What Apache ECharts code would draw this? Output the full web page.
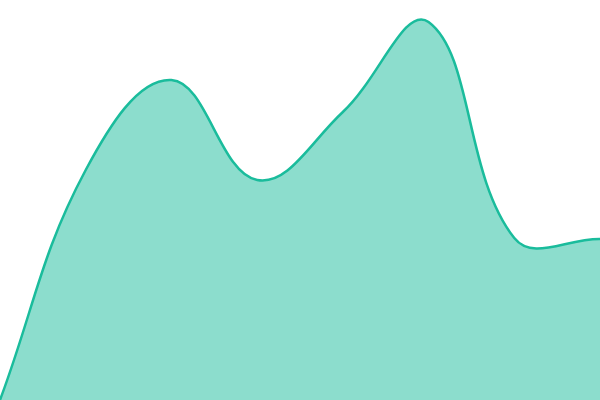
<!DOCTYPE html>
<html><head><meta charset="utf-8">
<script src="https://cdn.jsdelivr.net/npm/echarts@6/dist/echarts.min.js"></script>
<style>html,body{margin:0;padding:0;background:#fff}#c{width:600px;height:400px}</style>
</head><body><div id="c"></div>
<script>
var categories = ['1', '2', '3', '4', '5', '6', '7', '8'];
var values = [0, 230, 320, 220, 288, 378, 162, 161];
var tension = 0.4;

function splinePath(pts, t) {
  var cps = pts.map(function (p, i) {
    var prev = pts[i - 1] || p, next = pts[i + 1] || p;
    var d01 = Math.hypot(p[0] - prev[0], p[1] - prev[1]);
    var d12 = Math.hypot(next[0] - p[0], next[1] - p[1]);
    var s = d01 + d12;
    var s01 = s ? d01 / s : 0, s12 = s ? d12 / s : 0;
    var vx = next[0] - prev[0], vy = next[1] - prev[1];
    return {
      prev: [p[0] - t * s01 * vx, p[1] - t * s01 * vy],
      next: [p[0] + t * s12 * vx, p[1] + t * s12 * vy]
    };
  });
  var d = 'M' + pts[0][0] + ',' + pts[0][1];
  for (var i = 1; i < pts.length; i++) {
    var a = cps[i - 1].next, b = cps[i].prev, p = pts[i];
    d += ' C' + a[0] + ',' + a[1] + ' ' + b[0] + ',' + b[1] + ' ' + p[0] + ',' + p[1];
  }
  return d;
}

var chart = echarts.init(document.getElementById('c'));
chart.setOption({
  animation: false,
  grid: {left: 0, right: 0, top: 0, bottom: 0},
  xAxis: {type: 'category', data: categories, boundaryGap: false, show: false},
  yAxis: {type: 'value', min: 0, max: 400, show: false},
  series: [{
    type: 'custom',
    clip: true,
    data: values.map(function (v, i) { return [i, v]; }),
    encode: {x: 0, y: 1},
    renderItem: function (params, api) {
      if (params.dataIndex !== 0) return null;
      var pts = values.map(function (v, i) { return api.coord([i, v]); });
      var base = api.coord([0, 0])[1];
      var line = splinePath(pts, tension);
      var last = pts[pts.length - 1];
      var area = line + ' L' + last[0] + ',' + base + ' L' + pts[0][0] + ',' + base + ' Z';
      return {
        type: 'group',
        children: [
          {type: 'path', shape: {pathData: area}, style: {fill: 'rgba(26,188,156,0.5)', stroke: null}},
          {type: 'path', shape: {pathData: line}, style: {fill: null, stroke: '#1abc9c', lineWidth: 2.5}}
        ]
      };
    }
  }]
});
</script></body></html>
